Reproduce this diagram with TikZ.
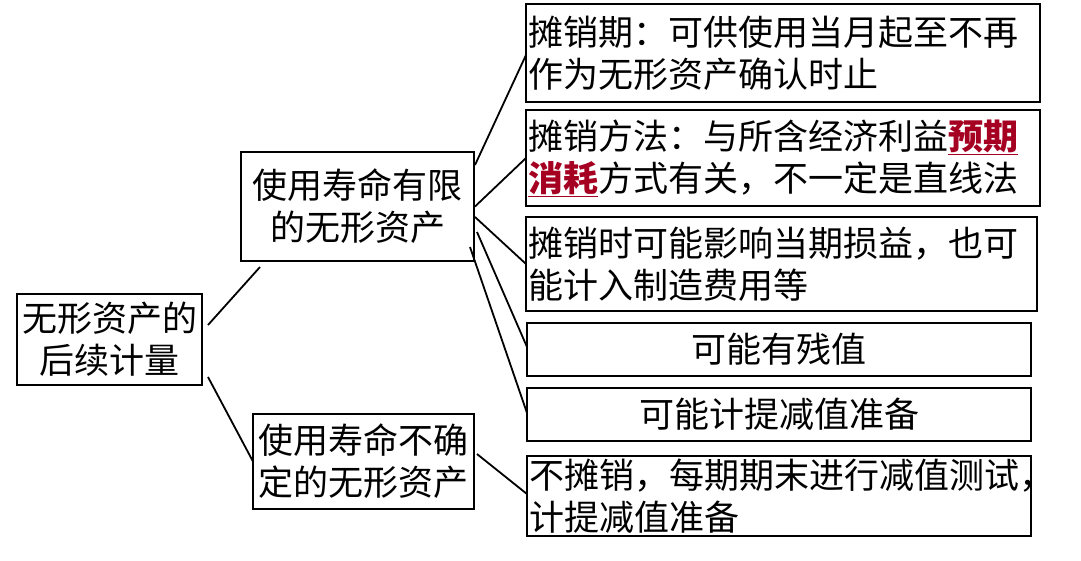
\documentclass[tikz,border=0pt]{standalone}
\usepackage{fontspec}
\newfontfamily\cjk{Noto Sans CJK SC}
\usepackage{tikz}
\usetikzlibrary{positioning}
\usepackage{xcolor}
\definecolor{keyred}{HTML}{A50021}

\begin{document}
\begin{tikzpicture}[x=1pt,y=-1pt]
	\useasboundingbox (0,0) rectangle (1081,560);
	\begin{scope}[every node/.style={draw,line width=2.2pt,outer sep=0pt,inner xsep=2pt,inner ysep=0pt,align=center,font=\cjk\fontsize{35}{42}\selectfont}]
		\node[minimum width=185pt,minimum height=91pt] (root) at (109.5,339.5) {无形资产的\\后续计量};
		
		\node[minimum width=233pt,minimum height=109pt] (finite) at (357.5,206.5) {使用寿命有限\\的无形资产};
		\node[minimum width=221pt,minimum height=95pt] (indef) at (363.5,461.5) {使用寿命不确\\定的无形资产};
		
		\node[text width=510pt,align=left,minimum height=98pt] (period) at (783,53) {摊销期：可供使用当月起至不再\\作为无形资产确认时止};
		\node[text width=510pt,align=left,minimum height=96pt,below=8pt of period.south west,anchor=north west] (method) {摊销方法：与所含经济利益\textcolor{keyred}{\underline{\bfseries 预期}}\\\textcolor{keyred}{\underline{\bfseries 消耗}}方式有关，不一定是直线法};
		\node[text width=507pt,align=left,minimum height=94pt,below=11pt of method.south west,anchor=north west] (profit) {摊销时可能影响当期损益，也可\\能计入制造费用等};
		\node[minimum width=504pt,minimum height=53pt,below=12pt of profit.south west,anchor=north west,xshift=1pt] (residual) {可能有残值};
		\node[minimum width=504pt,minimum height=53pt,below=12pt of residual.south west,anchor=north west] (impair) {可能计提减值准备};
		\node[text width=500pt,align=left,minimum height=80pt,below=15pt of impair.south west,anchor=north west] (test) {不摊销，每期期末进行减值测试，\\计提减值准备};
	\end{scope}
	\begin{scope}[line width=1.8pt]
		\draw ([xshift=6pt,yshift=14.5pt]root.east) -- ([xshift=19pt,yshift=-6pt]finite.south west);
		\draw ([xshift=6pt,yshift=-37.5pt]root.east) -- (indef.west);
		
		\draw ([xshift=1pt,yshift=41.5pt]finite.east) -- ([yshift=-2pt]period.west);
		\draw ([xshift=1pt]finite.east) -- (method.west);
		\draw ([xshift=1pt,yshift=-10.5pt]finite.east) -- (profit.west);
		\draw ([xshift=3pt,yshift=-25.5pt]finite.east) -- ([yshift=2.5pt]residual.west);
		\draw ([xshift=-4pt,yshift=-40.5pt]finite.east) -- ([yshift=1.5pt]impair.west);
		
		\draw ([xshift=3pt,yshift=7.5pt]indef.east) -- ([yshift=2pt]test.west);
	\end{scope}
\end{tikzpicture}
\end{document}
